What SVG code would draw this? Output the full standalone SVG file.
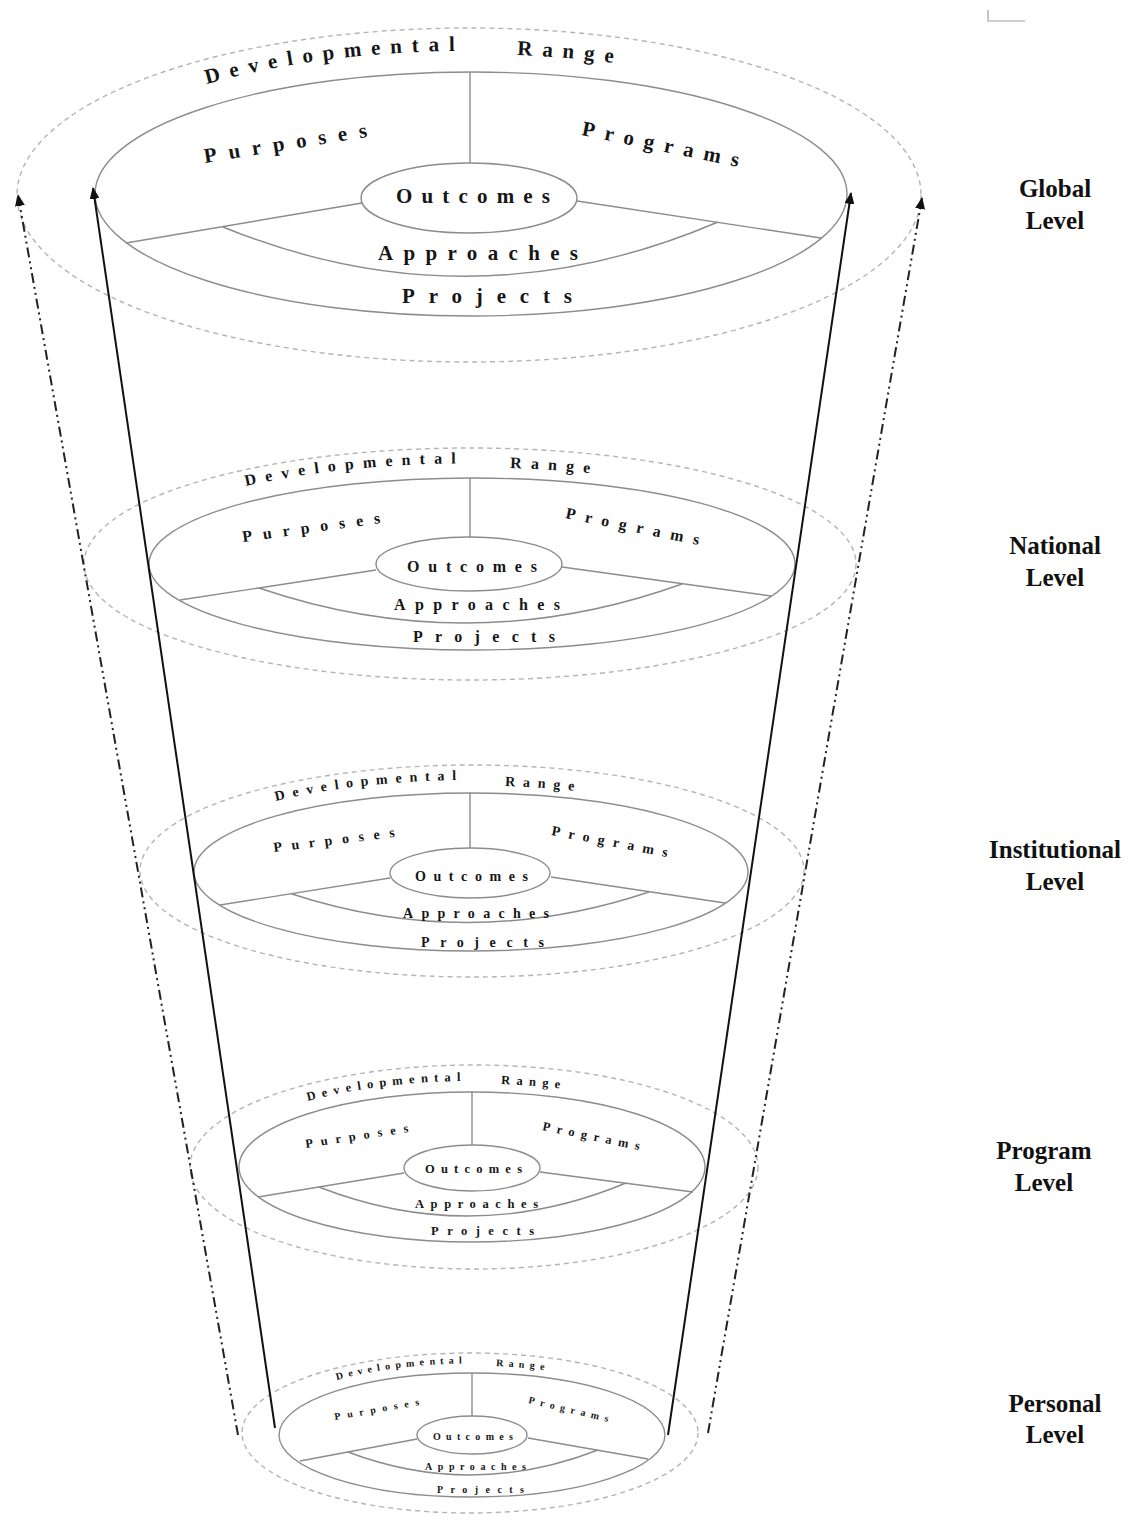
<svg xmlns="http://www.w3.org/2000/svg" width="1130" height="1522" viewBox="0 0 1130 1522">
<style>
  .ring{fill:none;stroke:#8c8c8c;stroke-width:1.4}
  .halo{fill:none;stroke:#b4b4b4;stroke-width:1.4;stroke-dasharray:5 4}
  .lbl{font-family:"Liberation Serif","Times New Roman",serif;font-weight:bold;fill:#161616}
  .lvl{font-family:"Liberation Serif","Times New Roman",serif;font-weight:bold;font-size:25px;fill:#111;text-anchor:middle}
  .solid{stroke:#111;stroke-width:2;fill:none}
  .dashdot{stroke:#222;stroke-width:2;fill:none;stroke-dasharray:10 4 2 4 2 4}
</style>
<defs>
  <marker id="head" markerUnits="userSpaceOnUse" markerWidth="12" markerHeight="10" refX="11" refY="5" orient="auto">
    <path d="M0,0 L12,5 L0,10 z" fill="#111"/>
  </marker>
  <!-- baselines for the curved top labels of each ring -->
  <path id="g-dev" d="M207 84 A413 145 0 0 1 733 84"/>
  <path id="g-rng" d="M517 55 A413 145 0 0 1 750 92"/>
  <path id="n-dev" d="M246 486 A355 101 0 0 1 694 486"/>
  <path id="n-rng" d="M510 468 A355 101 0 0 1 680 487"/>
  <path id="i-dev" d="M276 801 A305 92 0 0 1 664 801"/>
  <path id="i-rng" d="M505 786 A305 92 0 0 1 660 805"/>
  <path id="p-dev" d="M308 1101 A258 88 0 0 1 636 1101"/>
  <path id="p-rng" d="M501 1084 A258 88 0 0 1 640 1104"/>
  <path id="l-dev" d="M337 1380 A210 71 0 0 1 607 1380"/>
  <path id="l-rng" d="M496 1366 A210 71 0 0 1 620 1387"/>
</defs>

<rect width="1130" height="1522" fill="#fff"/>

<!-- corner mark -->
<polyline points="988,10 988,21 1025,21" fill="none" stroke="#a0a0a0" stroke-width="1.2"/>

<!-- Global level -->
<g id="level-global">
  <ellipse class="halo" cx="469" cy="195" rx="452" ry="167"/>
  <ellipse class="ring" cx="471" cy="194" rx="376" ry="122"/>
  <ellipse class="ring" cx="469" cy="198" rx="108" ry="35"/>
  <path class="ring" d="M470 72 V163 M362 203 L126 243 M577 201 L821 238 M223 227 Q470 328 718 222"/>
  <text class="lbl" font-size="21" style="letter-spacing:9.7px"><textPath href="#g-dev">Developmental</textPath></text>
  <text class="lbl" font-size="21" style="letter-spacing:9.7px"><textPath href="#g-rng">Range</textPath></text>
  <text class="lbl" font-size="21" x="205" y="163" transform="rotate(-9.1 205 163)" textLength="165" lengthAdjust="spacing">Purposes</text>
  <text class="lbl" font-size="21" x="581" y="135" transform="rotate(11.5 581 135)" textLength="160" lengthAdjust="spacing">Programs</text>
  <text class="lbl" font-size="21" x="396" y="203" textLength="154" lengthAdjust="spacing">Outcomes</text>
  <text class="lbl" font-size="21" x="378" y="260" textLength="200" lengthAdjust="spacing">Approaches</text>
  <text class="lbl" font-size="21" x="402" y="303" textLength="170" lengthAdjust="spacing">Projects</text>
</g>

<!-- National level -->
<g id="level-national">
  <ellipse class="halo" cx="470" cy="564" rx="386" ry="116"/>
  <ellipse class="ring" cx="472" cy="564" rx="323" ry="86"/>
  <ellipse class="ring" cx="469" cy="564" rx="93" ry="27"/>
  <path class="ring" d="M470 478 V537 M376 570 L180 600 M562 567 L771 596 M259 588 Q470 660 682 584"/>
  <text class="lbl" font-size="16" style="letter-spacing:9.1px"><textPath href="#n-dev">Developmental</textPath></text>
  <text class="lbl" font-size="16" style="letter-spacing:9.1px"><textPath href="#n-rng">Range</textPath></text>
  <text class="lbl" font-size="16" x="243" y="542" transform="rotate(-7.8 243 542)" textLength="139" lengthAdjust="spacing">Purposes</text>
  <text class="lbl" font-size="16" x="565" y="518" transform="rotate(11.5 565 518)" textLength="136" lengthAdjust="spacing">Programs</text>
  <text class="lbl" font-size="16" x="407" y="572" textLength="130" lengthAdjust="spacing">Outcomes</text>
  <text class="lbl" font-size="16" x="394" y="610" textLength="166" lengthAdjust="spacing">Approaches</text>
  <text class="lbl" font-size="16" x="413" y="642" textLength="142" lengthAdjust="spacing">Projects</text>
</g>

<!-- Institutional level -->
<g id="level-institutional">
  <ellipse class="halo" cx="472" cy="871" rx="332" ry="106"/>
  <ellipse class="ring" cx="471" cy="872" rx="277" ry="79"/>
  <ellipse class="ring" cx="470" cy="873" rx="80" ry="25"/>
  <path class="ring" d="M470 793 V848 M390 878 L220 905 M551 877 L725 903 M292 894 Q470 952 649 892"/>
  <text class="lbl" font-size="14" style="letter-spacing:7.7px"><textPath href="#i-dev">Developmental</textPath></text>
  <text class="lbl" font-size="14" style="letter-spacing:7.7px"><textPath href="#i-rng">Range</textPath></text>
  <text class="lbl" font-size="14" x="274" y="852" transform="rotate(-7.1 274 852)" textLength="122" lengthAdjust="spacing">Purposes</text>
  <text class="lbl" font-size="14" x="551" y="835" transform="rotate(10.7 551 835)" textLength="118" lengthAdjust="spacing">Programs</text>
  <text class="lbl" font-size="14" x="415" y="881" textLength="113" lengthAdjust="spacing">Outcomes</text>
  <text class="lbl" font-size="14" x="403" y="918" textLength="146" lengthAdjust="spacing">Approaches</text>
  <text class="lbl" font-size="14" x="421" y="947" textLength="123" lengthAdjust="spacing">Projects</text>
</g>

<!-- Program level -->
<g id="level-program">
  <ellipse class="halo" cx="474" cy="1167" rx="284" ry="102"/>
  <ellipse class="ring" cx="472" cy="1167" rx="233" ry="75"/>
  <ellipse class="ring" cx="472" cy="1168" rx="68" ry="23"/>
  <path class="ring" d="M472 1092 V1145 M404 1173 L258 1197 M540 1172 L693 1192 M319 1187 Q472 1247 626 1183"/>
  <text class="lbl" font-size="12.5" style="letter-spacing:6.2px"><textPath href="#p-dev">Developmental</textPath></text>
  <text class="lbl" font-size="12.5" style="letter-spacing:6.2px"><textPath href="#p-rng">Range</textPath></text>
  <text class="lbl" font-size="12.5" x="306" y="1148" transform="rotate(-8.8 306 1148)" textLength="104" lengthAdjust="spacing">Purposes</text>
  <text class="lbl" font-size="12.5" x="542" y="1130" transform="rotate(11.7 542 1130)" textLength="99" lengthAdjust="spacing">Programs</text>
  <text class="lbl" font-size="12.5" x="425" y="1173" textLength="97" lengthAdjust="spacing">Outcomes</text>
  <text class="lbl" font-size="12.5" x="415" y="1208" textLength="123" lengthAdjust="spacing">Approaches</text>
  <text class="lbl" font-size="12.5" x="431" y="1235" textLength="103" lengthAdjust="spacing">Projects</text>
</g>

<!-- Personal level -->
<g id="level-personal">
  <ellipse class="halo" cx="470" cy="1433" rx="228" ry="80"/>
  <ellipse class="ring" cx="472" cy="1435" rx="193" ry="62"/>
  <ellipse class="ring" cx="472" cy="1435" rx="55" ry="19"/>
  <path class="ring" d="M472 1373 V1416 M417 1439 L300 1461 M528 1438 L648 1459 M348 1452 Q472 1499 598 1450"/>
  <text class="lbl" font-size="10" style="letter-spacing:5.2px"><textPath href="#l-dev">Developmental</textPath></text>
  <text class="lbl" font-size="10" style="letter-spacing:5.2px"><textPath href="#l-rng">Range</textPath></text>
  <text class="lbl" font-size="10" x="335" y="1420" transform="rotate(-10 335 1420)" textLength="86" lengthAdjust="spacing">Purposes</text>
  <text class="lbl" font-size="10" x="528" y="1403" transform="rotate(13.4 528 1403)" textLength="82" lengthAdjust="spacing">Programs</text>
  <text class="lbl" font-size="10" x="433" y="1440" textLength="80" lengthAdjust="spacing">Outcomes</text>
  <text class="lbl" font-size="10" x="425" y="1470" textLength="101" lengthAdjust="spacing">Approaches</text>
  <text class="lbl" font-size="10" x="437" y="1493" textLength="87" lengthAdjust="spacing">Projects</text>
</g>

<!-- upward arrows spanning the levels -->
<g id="connectors">
  <line class="solid" x1="275" y1="1428" x2="93" y2="188" marker-end="url(#head)"/>
  <line class="solid" x1="668" y1="1435" x2="851" y2="193" marker-end="url(#head)"/>
  <line class="dashdot" x1="238" y1="1435" x2="18" y2="195" marker-end="url(#head)"/>
  <line class="dashdot" x1="708" y1="1433" x2="922" y2="198" marker-end="url(#head)"/>
</g>

<!-- level names -->
<g id="level-names">
  <text class="lvl" x="1055" y="197">Global</text>
  <text class="lvl" x="1055" y="229">Level</text>
  <text class="lvl" x="1055" y="554">National</text>
  <text class="lvl" x="1055" y="586">Level</text>
  <text class="lvl" x="1055" y="858">Institutional</text>
  <text class="lvl" x="1055" y="890">Level</text>
  <text class="lvl" x="1044" y="1159">Program</text>
  <text class="lvl" x="1044" y="1191">Level</text>
  <text class="lvl" x="1055" y="1412">Personal</text>
  <text class="lvl" x="1055" y="1443">Level</text>
</g>
</svg>
